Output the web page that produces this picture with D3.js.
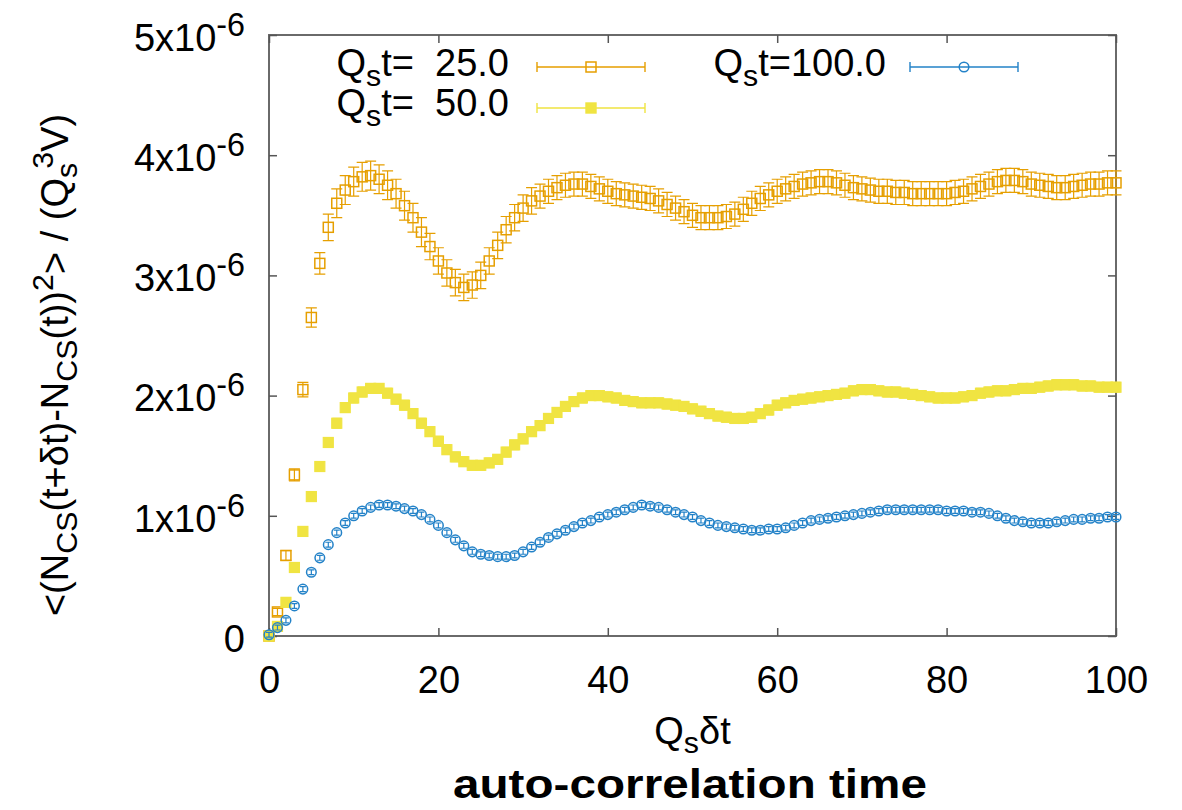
<!DOCTYPE html>
<html>
<head>
<meta charset="utf-8">
<script src="https://cdn.jsdelivr.net/npm/d3@7"></script>
<style>
  body { margin: 0; background: #fff; }
  svg text { font-family: "Liberation Sans", Arial, Helvetica, sans-serif; fill: #000; }
</style>
</head>
<body>
<div id="main"></div>
<script>
// Q_s dt sampled every unit
const deltaT = d3.range(0, 101);

// values in units of 1e-6
const qt25 = [
  0.00, 0.20, 0.67, 1.34, 2.05, 2.65, 3.10, 3.40, 3.60, 3.71,
  3.78, 3.82, 3.83, 3.80, 3.75, 3.68, 3.58, 3.48, 3.36, 3.24,
  3.12, 3.02, 2.94, 2.90, 2.92, 3.00, 3.12, 3.25, 3.38, 3.48,
  3.56, 3.62, 3.66, 3.70, 3.73, 3.75, 3.76, 3.76, 3.74, 3.72,
  3.70, 3.68, 3.67, 3.66, 3.65, 3.64, 3.62, 3.59, 3.56, 3.53,
  3.50, 3.48, 3.48, 3.48, 3.49, 3.51, 3.55, 3.60, 3.64, 3.67,
  3.70, 3.72, 3.74, 3.76, 3.77, 3.78, 3.78, 3.77, 3.75, 3.73,
  3.72, 3.71, 3.70, 3.70, 3.69, 3.69, 3.68, 3.68, 3.68, 3.68,
  3.68, 3.69, 3.70, 3.72, 3.74, 3.76, 3.78, 3.79, 3.79, 3.78,
  3.76, 3.75, 3.74, 3.73, 3.73, 3.74, 3.75, 3.76, 3.76, 3.77,
  3.77
];
const qt25Err = [
  0.01, 0.03, 0.04, 0.05, 0.06, 0.08, 0.09, 0.11, 0.12, 0.12,
  0.12, 0.12, 0.12, 0.12, 0.12, 0.12, 0.12, 0.12, 0.12, 0.11,
  0.11, 0.11, 0.11, 0.11, 0.11, 0.11, 0.11, 0.11, 0.11, 0.11,
  0.11, 0.11, 0.10, 0.10, 0.10, 0.10, 0.10, 0.10, 0.10, 0.10,
  0.10, 0.10, 0.10, 0.10, 0.10, 0.10, 0.10, 0.10, 0.10, 0.10,
  0.10, 0.10, 0.10, 0.10, 0.10, 0.10, 0.10, 0.10, 0.10, 0.10,
  0.10, 0.10, 0.10, 0.10, 0.10, 0.10, 0.10, 0.10, 0.10, 0.10,
  0.10, 0.10, 0.10, 0.10, 0.10, 0.10, 0.10, 0.10, 0.10, 0.10,
  0.10, 0.10, 0.10, 0.10, 0.10, 0.10, 0.10, 0.10, 0.10, 0.10,
  0.10, 0.10, 0.10, 0.10, 0.10, 0.10, 0.10, 0.10, 0.10, 0.10,
  0.10
];
const qt50 = [
  0.00, 0.08, 0.28, 0.57, 0.87, 1.16, 1.41, 1.61, 1.77, 1.90,
  1.98, 2.03, 2.06, 2.06, 2.02, 1.97, 1.92, 1.85, 1.77, 1.70,
  1.62, 1.55, 1.49, 1.45, 1.42, 1.42, 1.44, 1.47, 1.53, 1.59,
  1.64, 1.70, 1.75, 1.81, 1.86, 1.91, 1.95, 1.98, 2.00, 2.00,
  1.99, 1.98, 1.96, 1.95, 1.94, 1.94, 1.94, 1.93, 1.92, 1.91,
  1.89, 1.87, 1.85, 1.83, 1.82, 1.81, 1.81, 1.82, 1.85, 1.88,
  1.92, 1.94, 1.96, 1.97, 1.98, 1.99, 2.00, 2.01, 2.02, 2.04,
  2.05, 2.05, 2.04, 2.03, 2.03, 2.02, 2.01, 2.00, 1.99, 1.98,
  1.98, 1.98, 1.99, 2.00, 2.02, 2.03, 2.04, 2.04, 2.05, 2.06,
  2.06, 2.07, 2.08, 2.09, 2.09, 2.09, 2.08, 2.08, 2.07, 2.07,
  2.07
];
const qt50Err = 0.04;
const qt100 = [
  0.01, 0.07, 0.13, 0.25, 0.39, 0.53, 0.65, 0.76, 0.86, 0.94,
  1.00, 1.04, 1.07, 1.09, 1.09, 1.08, 1.06, 1.04, 1.01, 0.97,
  0.92, 0.86, 0.80, 0.75, 0.70, 0.68, 0.67, 0.66, 0.66, 0.67,
  0.70, 0.74, 0.78, 0.82, 0.85, 0.88, 0.91, 0.94, 0.96, 0.99,
  1.01, 1.03, 1.05, 1.07, 1.09, 1.08, 1.07, 1.05, 1.03, 1.01,
  0.99, 0.96, 0.94, 0.92, 0.91, 0.90, 0.89, 0.88, 0.88, 0.89,
  0.89, 0.90, 0.92, 0.94, 0.96, 0.97, 0.98, 0.99, 1.00, 1.01,
  1.02, 1.03, 1.04, 1.05, 1.05, 1.05, 1.05, 1.05, 1.05, 1.05,
  1.04, 1.04, 1.04, 1.03, 1.03, 1.02, 1.00, 0.98, 0.96, 0.95,
  0.94, 0.94, 0.94, 0.95, 0.96, 0.97, 0.97, 0.98, 0.98, 0.99,
  0.99
];
const qt100Err = 0.02;

const xTicks = [0, 20, 40, 60, 80, 100];
const yTicks = [0, 1, 2, 3, 4, 5];
const seriesLabels = ["  25.0", "  50.0", "100.0"];

const cfg = {width: 1182, height: 810, left: 269, right: 1116, top: 35, bottom: 636};
const fs = 38;
const small = fs * 0.8;

const svg = d3.select("#main").append("svg")
  .attr("width", cfg.width)
  .attr("height", cfg.height)
  .attr("viewBox", [0, 0, cfg.width, cfg.height]);

const x = d3.scaleLinear().domain([0, 100]).range([cfg.left, cfg.right]);
const y = d3.scaleLinear().domain([0, 5]).range([cfg.bottom, cfg.top]);

// frame
svg.append("rect")
  .attr("x", cfg.left).attr("y", cfg.top)
  .attr("width", cfg.right - cfg.left).attr("height", cfg.bottom - cfg.top)
  .attr("fill", "none").attr("stroke", "#6a6a6a").attr("stroke-width", 2);

function styleTicks(g) {
  g.select(".domain").remove();
  g.selectAll(".tick line").attr("stroke", "#555").attr("stroke-width", 1.5);
}

// bottom axis with labels
svg.append("g")
  .attr("transform", `translate(0,${cfg.bottom})`)
  .call(d3.axisBottom(x).tickValues(xTicks).tickSize(-8).tickPadding(30))
  .call(styleTicks)
  .call(g => g.selectAll(".tick text").attr("font-size", fs).attr("font-family", null).attr("fill", "#000"));

// top mirror ticks
svg.append("g")
  .attr("transform", `translate(0,${cfg.top})`)
  .call(d3.axisTop(x).tickValues(xTicks).tickSize(-8).tickFormat(""))
  .call(styleTicks);

// left axis, labels as a x 10^-6
svg.append("g")
  .attr("transform", `translate(${cfg.left},0)`)
  .call(d3.axisLeft(y).tickValues(yTicks).tickSize(-8).tickPadding(24).tickFormat(""))
  .call(styleTicks)
  .call(g => g.selectAll(".tick text").each(function(d) {
    const t = d3.select(this)
      .attr("font-size", fs).attr("font-family", null).attr("fill", "#000")
      .attr("dy", "0.4em");
    if (d === 0) { t.text("0"); return; }
    t.append("tspan").text(`${d}x10`);
    t.append("tspan").attr("font-size", fs * 0.85).attr("dy", -15).text("-6");
  }));

// right mirror ticks
svg.append("g")
  .attr("transform", `translate(${cfg.right},0)`)
  .call(d3.axisRight(y).tickValues(yTicks).tickSize(-8).tickFormat(""))
  .call(styleTicks);

const series = [
  {label: seriesLabels[0], values: qt25, err: i => qt25Err[i], color: "#e69f00", marker: "openSquare", cap: 5.5},
  {label: seriesLabels[1], values: qt50, err: () => qt50Err, color: "#f0e442", marker: "fillSquare", cap: 4.5},
  {label: seriesLabels[2], values: qt100, err: () => qt100Err, color: "#2382c8", marker: "openCircle", cap: 3}
];

function drawMarker(g, type, color) {
  if (type === "openSquare") {
    g.append("rect").attr("x", -5).attr("y", -5).attr("width", 10).attr("height", 10)
      .attr("fill", "none").attr("stroke", color).attr("stroke-width", 1.5);
  } else if (type === "fillSquare") {
    g.append("rect").attr("x", -5).attr("y", -5).attr("width", 10).attr("height", 10)
      .attr("fill", color);
  } else {
    g.append("circle").attr("r", 4.8)
      .attr("fill", "none").attr("stroke", color).attr("stroke-width", 1.5);
  }
}

const plot = svg.append("g");

series.forEach(s => {
  const pts = deltaT.map((t, i) => ({t, v: s.values[i], e: s.err(i)}));
  const grp = plot.append("g").attr("stroke", s.color).attr("stroke-width", 1.2);

  grp.selectAll(".bar")
    .data(pts)
    .join("path")
    .attr("fill", "none")
    .attr("d", d => {
      const cx = x(d.t), y0 = y(d.v - d.e), y1 = y(d.v + d.e);
      return `M${cx},${y0}V${y1}M${cx - s.cap},${y0}H${cx + s.cap}M${cx - s.cap},${y1}H${cx + s.cap}`;
    });

  grp.selectAll(".pt")
    .data(pts)
    .join("g")
    .attr("transform", d => `translate(${x(d.t)},${y(d.v)})`)
    .each(function() { drawMarker(d3.select(this), s.marker, s.color); });
});

// legend
const legendPos = [
  {tx: 509, ty: 76, lx: 537, ly: 67},
  {tx: 509, ty: 116, lx: 537, ly: 108},
  {tx: 886, ty: 76, lx: 910, ly: 67}
];
const keyLen = 108;

series.forEach((s, i) => {
  const p = legendPos[i];
  const txt = svg.append("text")
    .attr("x", p.tx).attr("y", p.ty)
    .attr("text-anchor", "end")
    .attr("font-size", fs)
    .attr("xml:space", "preserve");
  txt.append("tspan").text("Q");
  txt.append("tspan").attr("font-size", small).attr("dy", 10).text("s");
  txt.append("tspan").attr("dy", -10).text("t=" + s.label);

  const k = svg.append("g").attr("stroke", s.color).attr("stroke-width", 1.4);
  k.append("path").attr("fill", "none")
    .attr("d", `M${p.lx},${p.ly}H${p.lx + keyLen}M${p.lx},${p.ly - 5}V${p.ly + 5}M${p.lx + keyLen},${p.ly - 5}V${p.ly + 5}`);
  const m = k.append("g").attr("transform", `translate(${p.lx + keyLen / 2},${p.ly})`);
  drawMarker(m, s.marker, s.color);
});

// x label
const xl = svg.append("text")
  .attr("x", (cfg.left + cfg.right) / 2).attr("y", 744)
  .attr("text-anchor", "middle").attr("font-size", fs);
xl.append("tspan").text("Q");
xl.append("tspan").attr("font-size", small).attr("dy", 9).text("s");
xl.append("tspan").attr("dy", -9).text("δt");

// y label
const yl = svg.append("text")
  .attr("transform", "translate(68,365) rotate(-90)")
  .attr("text-anchor", "middle").attr("font-size", fs);
yl.append("tspan").text("<(N");
yl.append("tspan").attr("font-size", small).attr("dy", 9).text("CS");
yl.append("tspan").attr("dy", -9).text("(t+δt)-N");
yl.append("tspan").attr("font-size", small).attr("dy", 9).text("CS");
yl.append("tspan").attr("dy", -9).text("(t))");
yl.append("tspan").attr("font-size", small).attr("dy", -15).text("2");
yl.append("tspan").attr("dy", 15).text("> / (Q");
yl.append("tspan").attr("font-size", small).attr("dy", 9).text("s");
yl.append("tspan").attr("font-size", small).attr("dx", -6).attr("dy", -24).text("3");
yl.append("tspan").attr("dy", 15).text("V)");

// title under the plot
svg.append("text")
  .attr("x", 690).attr("y", 798)
  .attr("text-anchor", "middle")
  .attr("font-size", 41).attr("font-weight", "bold")
  .attr("textLength", 474).attr("lengthAdjust", "spacingAndGlyphs")
  .text("auto-correlation time");
</script>
</body>
</html>
